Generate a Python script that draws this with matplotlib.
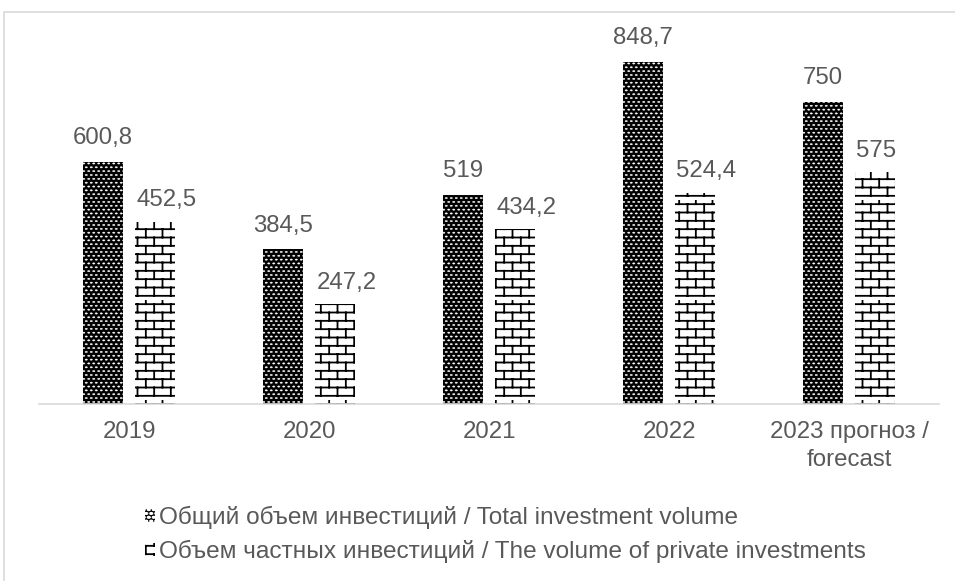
import numpy as np
import matplotlib
matplotlib.use("Agg")
import matplotlib.pyplot as plt
import matplotlib.hatch as mhatch
from matplotlib.path import Path
from matplotlib.patches import Rectangle

# ---------------- data ----------------
categories = ["2019", "2020", "2021", "2022", "2023 прогноз /\nforecast"]
total_investment = [600.8, 384.5, 519.0, 848.7, 750.0]
private_investment = [452.5, 247.2, 434.2, 524.4, 575.0]
total_labels = ["600,8", "384,5", "519", "848,7", "750"]
private_labels = ["452,5", "247,2", "434,2", "524,4", "575"]
series_names = ["Общий объем инвестиций / Total investment volume",
                "Объем частных инвестиций / The volume of private investments"]


# ---------------- custom hatches ----------------
class BrickHatch(mhatch.HatchPatternBase):
    def __init__(self, hatch, density):
        n = hatch.count('+')
        self.rows = 12 * n
        self.cols = 6 * n
        self.num_vertices = 0 if n == 0 else self.rows * 2 + self.rows * self.cols * 2

    def set_vertices_and_codes(self, vertices, codes):
        rows, cols = self.rows, self.cols
        dy = 1.0 / rows
        dx = 1.0 / cols
        v = []
        for r in range(rows):
            y0 = (r + 0.5) * dy
            v.append([(0.0, y0), (1.0, y0)])
            off = 0.25 * dx if r % 2 == 0 else 0.75 * dx
            for c in range(cols):
                x = c * dx + off
                v.append([(x, y0), (x, y0 + dy)])
        vertices[:] = np.array(v, dtype=float).reshape(-1, 2)
        codes[0::2] = Path.MOVETO
        codes[1::2] = Path.LINETO


class DotHatch(mhatch.HatchPatternBase):
    def __init__(self, hatch, density):
        n = hatch.count('O')
        self.cols = 20 * n
        self.rows = 26 * n
        circ = Path.unit_circle()
        self.shape_v = circ.vertices
        self.shape_c = circ.codes
        self.num_vertices = 0 if n == 0 else self.rows * self.cols * len(self.shape_v)

    def set_vertices_and_codes(self, vertices, codes):
        parts, cparts = [], []
        rx = 0.24 / self.cols
        ry = 0.17 / self.rows
        for r in range(self.rows):
            y = (r + 0.5) / self.rows
            off = 0.25 if r % 2 == 0 else 0.75
            for c in range(self.cols):
                x = (c + off) / self.cols
                parts.append(self.shape_v * [rx, ry] + [x, y])
                cparts.append(self.shape_c)
        vertices[:] = np.concatenate(parts)
        codes[:] = np.concatenate(cparts)


mhatch._hatch_types = [BrickHatch, DotHatch]

# ---------------- figure ----------------
plt.rcParams['font.family'] = ['Liberation Sans', 'DejaVu Sans']
W, H = 955, 581
fig = plt.figure(figsize=(W / 100, H / 100), dpi=100)
text_color = '#595959'
fs = 17.3
fs_leg = 17.6

# outer border
fig.patches.append(Rectangle((4 / W, -0.1), 1.2, (H - 12) / H + 0.1,
                             transform=fig.transFigure, fill=False,
                             edgecolor='#d9d9d9', linewidth=1.2, zorder=0))

ax = fig.add_axes([39 / W, (H - 404) / H, 900 / W, 374 / H])
x = np.arange(len(categories))
bw = 0.222
off = 0.144

plt.rcParams['hatch.linewidth'] = 0.3
b1 = ax.bar(x - off, total_investment, bw, color='black', edgecolor='white',
            linewidth=0, hatch='O', label=series_names[0])
for p in b1:
    if hasattr(p, 'set_hatch_linewidth'):
        p.set_hatch_linewidth(0.3)

plt.rcParams['hatch.linewidth'] = 1.3
b2 = ax.bar(x + off, private_investment, bw, color='white', edgecolor='black',
            linewidth=0, hatch='+', label=series_names[1])
for p in b2:
    if hasattr(p, 'set_hatch_linewidth'):
        p.set_hatch_linewidth(1.3)

for xi, v, lab in zip(x, total_investment, total_labels):
    ax.annotate(lab, (xi - off, v), xytext=(0, 9), textcoords='offset points',
                ha='center', va='bottom', fontsize=fs, color=text_color)
for xi, v, lab in zip(x, private_investment, private_labels):
    ax.annotate(lab, (xi + off - bw / 2, v), xytext=(1, 7.5), textcoords='offset points',
                ha='left', va='bottom', fontsize=fs, color=text_color)

ax.set_xlim(-0.5, len(categories) - 0.5)
ax.set_ylim(0, 928)
ax.set_yticks([])
ax.set_xticks(x)
ax.set_xticklabels(categories, fontsize=fs, color=text_color, linespacing=1.35)
ax.tick_params(axis='x', length=0, pad=12)
for s in ['top', 'right', 'left']:
    ax.spines[s].set_visible(False)
ax.spines['bottom'].set_color('#d9d9d9')
ax.spines['bottom'].set_linewidth(1.2)
ax.patch.set_alpha(0)

leg = fig.legend(handles=[b1, b2], labels=series_names, loc='upper left',
                 bbox_to_anchor=(145 / W, 1 - 506 / H), frameon=False,
                 fontsize=fs_leg, handlelength=0.42, handleheight=0.42,
                 handletextpad=0.15, labelspacing=0.45, borderpad=0,
                 borderaxespad=0)
for t in leg.get_texts():
    t.set_color(text_color)

fig.savefig('out.png', dpi=100)
